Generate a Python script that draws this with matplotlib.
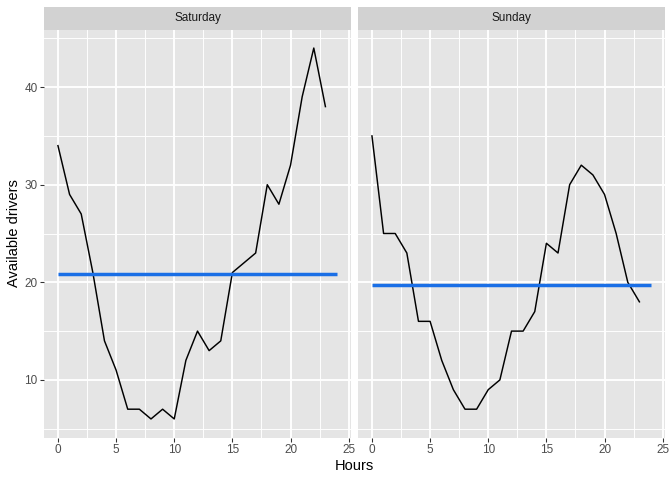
import matplotlib
matplotlib.use("Agg")
import matplotlib.pyplot as plt
import numpy as np

plt.rcParams['font.family'] = ['Liberation Sans', 'DejaVu Sans']

hours = list(range(24))
saturday = [34, 29, 27, 21, 14, 11, 7, 7, 6, 7, 6, 12, 15, 13, 14, 21, 22, 23, 30, 28, 32, 39, 44, 38]
sunday = [35, 25, 25, 23, 16, 16, 12, 9, 7, 7, 9, 10, 15, 15, 17, 24, 23, 30, 32, 31, 29, 25, 20, 18]
panels = ["Saturday", "Sunday"]
series = [saturday, sunday]
x_ticks = [0, 5, 10, 15, 20, 25]
y_ticks = [10, 20, 30, 40]

W, H = 672, 480
fig = plt.figure(figsize=(W / 96, H / 96), dpi=96)

panel_bg = "#E5E5E5"
strip_bg = "#D2D2D2"
blue = "#1A6FE6"

ymin_all = min(min(saturday), min(sunday))
ymax_all = max(max(saturday), max(sunday))
yr = ymax_all - ymin_all
ylim = (ymin_all - 0.05 * yr, ymax_all + 0.05 * yr)
xlim = (0 - 0.05 * 24, 24 + 0.05 * 24)

lefts = [44, 358]
pw = 307
ptop, pbot = 29.5, 437.5
stop = 7

for i, (name, vals) in enumerate(zip(panels, series)):
    ax = fig.add_axes([lefts[i] / W, 1 - pbot / H, pw / W, (pbot - ptop) / H])
    ax.set_facecolor(panel_bg)
    ax.set_xlim(*xlim)
    ax.set_ylim(*ylim)
    ax.set_xticks(x_ticks)
    ax.set_xticks([2.5, 7.5, 12.5, 17.5, 22.5], minor=True)
    ax.set_yticks(y_ticks)
    ax.set_yticks([5, 15, 25, 35, 45], minor=True)
    ax.grid(which='major', color='white', linewidth=1.4)
    ax.grid(which='minor', color='white', linewidth=0.7)
    ax.set_axisbelow(True)
    for s in ax.spines.values():
        s.set_visible(False)
    ax.tick_params(which='major', length=2.75, width=0.8, color='#333333',
                   labelsize=8.8, labelcolor='#4D4D4D', pad=2)
    ax.tick_params(which='minor', length=0)
    if i > 0:
        ax.tick_params(axis='y', which='both', left=False, labelleft=False)
    ax.plot(hours, vals, color='black', linewidth=1.1, zorder=3)
    m = float(np.mean(vals))
    ax.plot([0, 24], [m, m], color=blue, linewidth=2.6, zorder=4, solid_capstyle='butt')

    sax = fig.add_axes([lefts[i] / W, 1 - ptop / H, pw / W, (ptop - stop) / H])
    sax.set_facecolor(strip_bg)
    sax.set_xticks([]); sax.set_yticks([])
    for s in sax.spines.values():
        s.set_visible(False)
    sax.text(0.5, 0.5, name, ha='center', va='center', fontsize=8.8, color='#1A1A1A',
             transform=sax.transAxes)

fig.text((lefts[0] + lefts[1] + pw) / 2 / W, 1 - 466 / H, "Hours", ha='center', va='center',
         fontsize=11, color='black')
fig.text(14 / W, 1 - ((ptop + pbot) / 2) / H, "Available drivers", ha='center', va='center',
         rotation=90, fontsize=11, color='black')

fig.savefig("out.png", dpi=96)
